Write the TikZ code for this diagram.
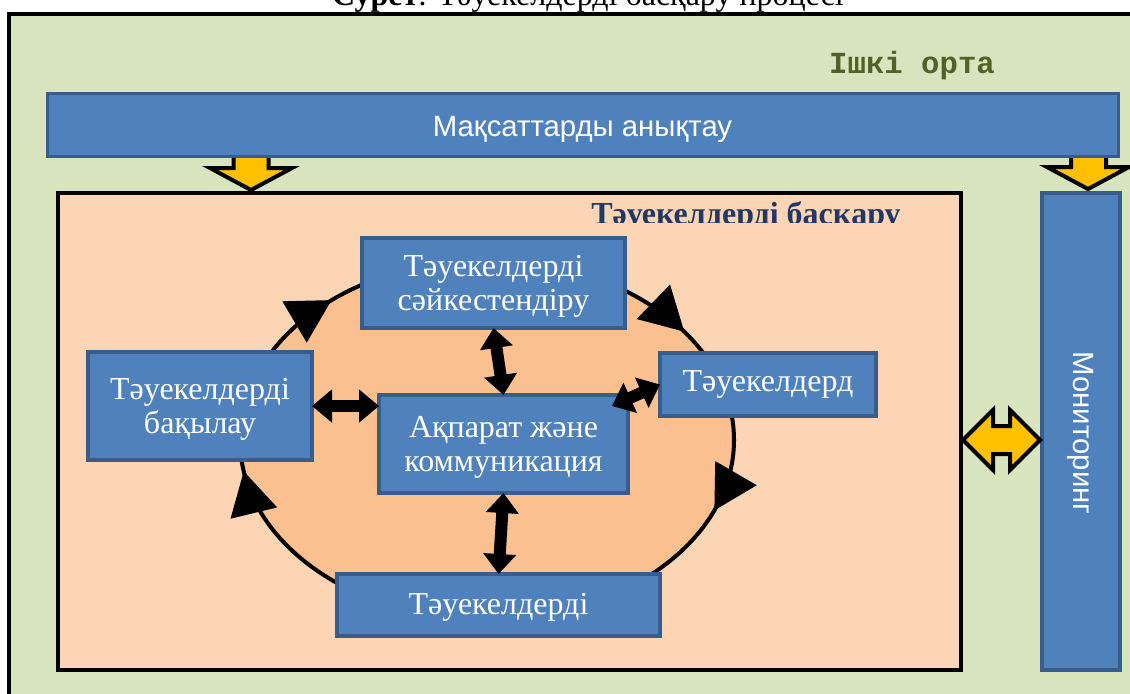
\documentclass[tikz,border=0pt]{standalone}
\usepackage{fontspec}
\setmainfont{Liberation Serif}
\newfontfamily\sansf{Liberation Sans}
\newfontfamily\monof{Liberation Mono}
\usetikzlibrary{arrows.meta,calc}
\definecolor{grn}{HTML}{D7E4BD}
\definecolor{bxfill}{HTML}{4F81BD}
\definecolor{bxline}{HTML}{385D8A}
\definecolor{orng}{HTML}{FCD5B5}
\definecolor{ellf}{HTML}{FAC090}
\definecolor{yel}{HTML}{FFC000}
\definecolor{navy}{HTML}{1F3864}
\definecolor{olive}{HTML}{4F6228}
\newcommand\lowr[2]{\raisebox{-#1}[\height][\depth]{#2}}
\tikzset{
  box/.style={draw=bxline, fill=bxfill, line width=3.5pt, inner sep=0pt, outer sep=0pt,
    text=white, align=center, font=\fontsize{24}{27}\selectfont},
  bigbar/.style={draw=bxline, fill=bxfill, line width=2.25pt, inner sep=0pt, outer sep=0pt,
    text=white, font=\sansf\fontsize{22}{26}\selectfont},
  yarr/.style={draw=black, fill=yel, line width=3pt, line join=miter},
  bdarrow/.style={line width=9pt, {Triangle[width=24pt,length=15pt]}-{Triangle[width=24pt,length=15pt]}},
}
\newcommand\ellarrow[1]{%
 \pgfmathsetmacro\eaTx{487+247*cos(#1)}%
 \pgfmathsetmacro\eaTy{440+180*sin(#1)}%
 \pgfmathsetmacro\eaDx{-1.3722*sin(#1)}%
 \pgfmathsetmacro\eaDy{cos(#1)}%
 \pgfmathsetmacro\eaDl{sqrt(\eaDx*\eaDx+\eaDy*\eaDy)}%
 \pgfmathsetmacro\eaUx{\eaDx/\eaDl}%
 \pgfmathsetmacro\eaUy{\eaDy/\eaDl}%
 \fill (\eaTx,\eaTy) -- ({\eaTx-43*\eaUx-24*\eaUy},{\eaTy-43*\eaUy+24*\eaUx})
   -- ({\eaTx-43*\eaUx+24*\eaUy},{\eaTy-43*\eaUy-24*\eaUx}) -- cycle;}
\begin{document}
\begin{tikzpicture}[x=0.75pt,y=-0.75pt]
\useasboundingbox (0,0) rectangle (1130,693);
\fill[white] (0,0) rectangle (1130,693);
% title (clipped at the top)
\node[anchor=base, inner sep=0pt, font=\fontsize{24}{26}\selectfont] (title) at (588,5)
  {\textbf{Сурет}: Тәуекелдерді басқару процесі};
% outer frame
\draw[line width=3pt, fill=grn] (9,14) rectangle (1150,720);
\node[font=\monof\bfseries\fontsize{23}{26}\selectfont, text=olive, inner sep=0pt] (env) at (912,66) {Ішкі орта};
% yellow down arrows
\draw[yarr] (233.5,150) -- (268.5,150) -- (268.5,168) -- (292,168) -- (251,190) -- (210,168) -- (233.5,168) -- cycle;
\draw[yarr] (1071,150) -- (1106,150) -- (1106,167) -- (1129,167) -- (1088,189) -- (1047,167) -- (1071,167) -- cycle;
% top bar
\node[bigbar, minimum width=803.25pt, minimum height=47.25pt] (bar) at (582.5,124.5) {\lowr{3.5pt}{Мақсаттарды анықтау}};
% risk management area
\node[draw=black, fill=orng, line width=3pt, inner sep=0pt, minimum width=677.25pt, minimum height=357.75pt] (org) at (509.5,431.5) {};
\begin{scope}
\clip (60,195) rectangle (959,222);
\node[anchor=base, inner sep=0pt, text=navy, font=\bfseries\fontsize{24}{26}\selectfont] (head) at (746,224) {Тәуекелдерді басқару};
\end{scope}
% monitoring
\node[bigbar, line width=3pt, minimum width=58.5pt, minimum height=357.75pt] (mon) at (1081,431.5) {};
\node[rotate=-90, text=white, font=\sansf\fontsize{22}{26}\selectfont, inner sep=0pt] (montext) at (1081,433) {Мониторинг};
% cycle ellipse
\draw[fill=ellf, line width=3pt] (487,440) ellipse [x radius=185.25pt, y radius=135pt];
\ellarrow{231}
\ellarrow{323}
\ellarrow{23}
\ellarrow{170}
% boxes
\node[box, minimum width=197.25pt, minimum height=67.5pt] (topb) at (493.5,283) {\lowr{2.5pt}{\begin{tabular}{@{}c@{}}Тәуекелдерді\\[-1pt]сәйкестендіру\end{tabular}}};
\node[box, minimum width=168pt, minimum height=81pt] (lft) at (200,406) {\lowr{2.5pt}{\begin{tabular}{@{}c@{}}Тәуекелдерді\\[-1pt]бақылау\end{tabular}}};
\node[box, minimum width=162pt, minimum height=47.25pt] (rgt) at (768,384.5) {Тәуекелдерд};
\node[box, minimum width=186.75pt, minimum height=73.5pt] (ctr) at (503.5,444) {\lowr{2.5pt}{\begin{tabular}{@{}c@{}}Ақпарат және\\[-1pt]коммуникация\end{tabular}}};
\node[box, minimum width=242.25pt, minimum height=46.5pt] (btm) at (498.5,605) {\lowr{1.5pt}{Тәуекелдерді}};
% black double arrows
\draw[bdarrow] (topb.south) -- (ctr.north);
\draw[bdarrow] (lft.east) -- (lft.east -| ctr.west);
\draw[bdarrow] (ctr.south) -- (btm.north);
\draw[bdarrow] ($(ctr.north east)+(-16,11)$) -- (rgt.west);
% yellow double arrow
\draw[yarr] (963,440) -- (993,410) -- (993,426) -- (1010,426) -- (1010,410) -- (1040,440)
  -- (1010,470) -- (1010,454) -- (993,454) -- (993,470) -- cycle;
\end{tikzpicture}
\end{document}
